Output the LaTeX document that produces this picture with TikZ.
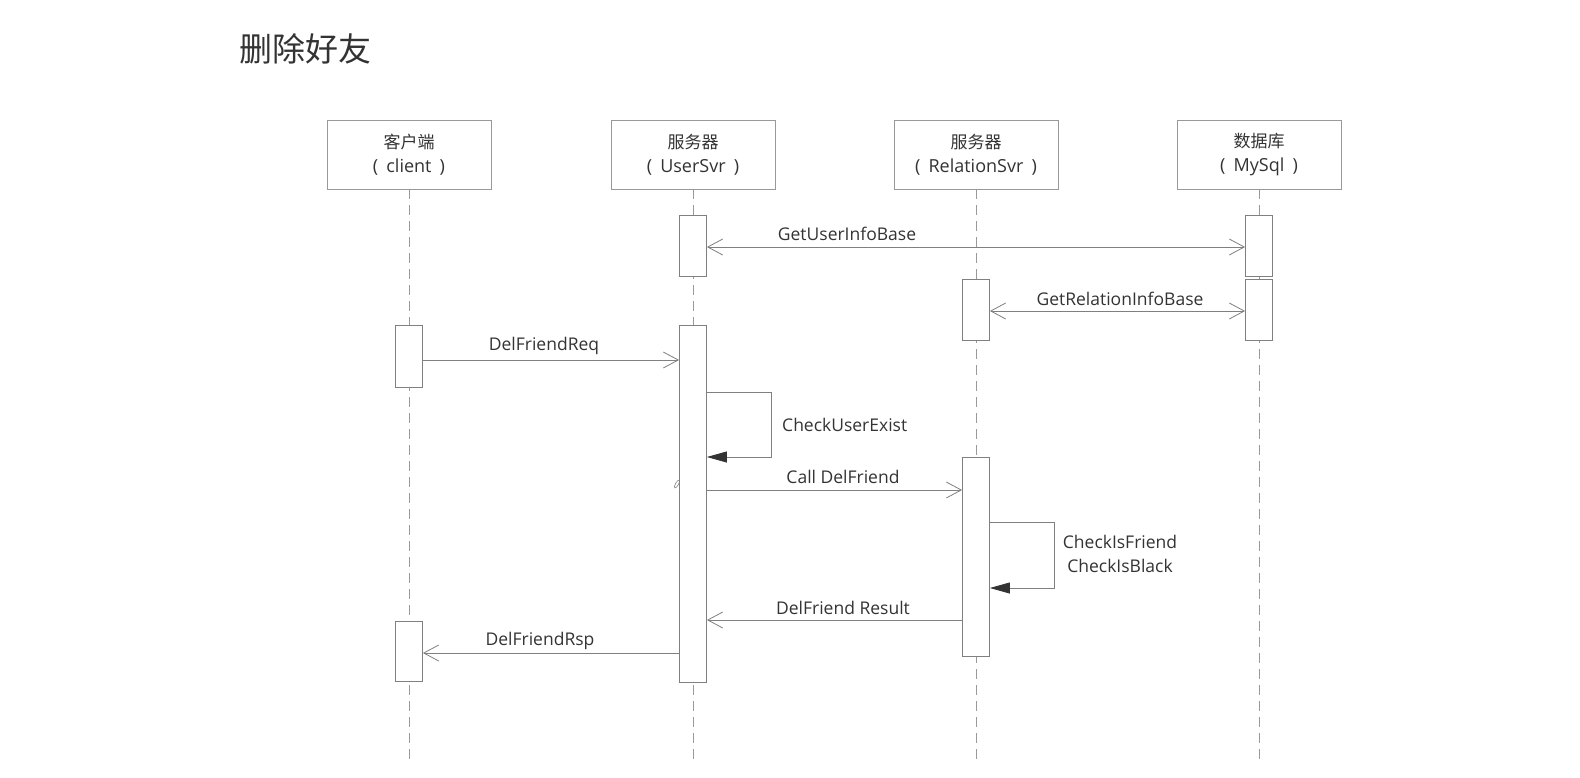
\documentclass[tikz,border=0pt]{standalone}
\usepackage{fontspec}
\setmainfont{Open Sans}
\newfontfamily\cjk{Noto Sans CJK SC}
\usepackage{xcolor}
\usetikzlibrary{arrows.meta}
\definecolor{txtgray}{HTML}{333333}
\definecolor{lngray}{HTML}{808080}
\newcommand{\pgap}{\hspace{0.45em}}

\begin{document}
\begin{tikzpicture}[x=1pt,y=-1pt,
  >={Straight Barb[length=15pt,width=16pt]},
  head/.style={draw=lngray!80, line width=0.8pt, fill=white, minimum width=164pt, minimum height=69pt, align=center, text=txtgray, font=\fontsize{18}{24}\selectfont},
  act/.style={draw=lngray, line width=0.8pt, fill=white, minimum width=27pt, inner sep=0pt},
  life/.style={draw=lngray!80, line width=0.8pt, dash pattern=on 10pt off 6pt},
  msg/.style={draw=lngray, line width=0.8pt, ->},
  self/.style={draw=lngray, line width=0.8pt, -{Triangle[length=20pt,width=11pt,color=txtgray]}},
  lbl/.style={text=txtgray, font=\fontsize{17.5}{24}\selectfont, inner sep=0pt, align=center}]
\useasboundingbox (0,0) rectangle (1580,777);

% title
\node[text=txtgray, font=\cjk\fontsize{33}{38}\selectfont] (T) at (305,49) {删除好友};

% heads
\node[head] (C0) at (409,154.5) {{\cjk\fontsize{17}{24}\selectfont 客户端}\\(\pgap client\pgap)};
\node[head] (U0) at (693,154.5) {{\cjk\fontsize{17}{24}\selectfont 服务器}\\(\pgap UserSvr\pgap)};
\node[head] (R0) at (976,154.5) {{\cjk\fontsize{17}{24}\selectfont 服务器}\\(\pgap RelationSvr\pgap)};
\node[head] (M0) at (1259,154.5) {{\cjk\fontsize{17}{24}\selectfont 数据库}\\(\pgap MySql\pgap)};

% lifelines
\coordinate (Cb) at (409,761);
\coordinate (Ub) at (693,761);
\coordinate (Rb) at (976,761);
\coordinate (Mb) at (1259,761);
\draw[life] (C0) -- (Cb);
\draw[life] (U0) -- (Ub);
\draw[life] (R0) -- (Rb);
\draw[life] (M0) -- (Mb);

% activations
\node[act, minimum height=61pt] (U1) at (693,245.5) {};
\node[act, minimum height=61pt] (M1) at (1259,245.5) {};
\node[act, minimum height=61pt] (R1) at (976,309.5) {};
\node[act, minimum height=61pt] (M2) at (1259,309.5) {};
\node[act, minimum height=62pt] (C1) at (409,356) {};
\node[act, minimum height=357pt] (U2) at (693,503.5) {};
\node[act, minimum height=199pt] (R2) at (976,556.5) {};
\node[act, minimum height=60pt] (C2) at (409,651) {};

% messages
\coordinate (K1) at (0,247);
\coordinate (K2) at (0,311);
\coordinate (K3) at (0,360);
\coordinate (K4) at (0,490);
\coordinate (K5) at (0,620);
\coordinate (K6) at (0,653);
\draw[msg, <->] (U1.east |- K1) -- (M1.west |- K1);
\draw[msg, <->] (R1.east |- K2) -- (M2.west |- K2);
\draw[msg] (C1.east |- K3) -- (U2.west |- K3);
\draw[msg] (U2.east |- K4) -- (R2.west |- K4);
\draw[msg] (R2.west |- K5) -- (U2.east |- K5);
\draw[msg] (U2.west |- K6) -- (C2.east |- K6);

% self calls
\coordinate (L1) at (771,392);
\coordinate (L2) at (771,457);
\draw[self] (U2.east |- L1) -- (L1) -- (L2) -- (U2.east |- L2);
\coordinate (L3) at (1054,522);
\coordinate (L4) at (1054,588);
\draw[self] (R2.east |- L3) -- (L3) -- (L4) -- (R2.east |- L4);

% labels
\node[lbl] (t1) at (847,234) {GetUserInfoBase};
\node[lbl] (t2) at (1120,299) {GetRelationInfoBase};
\node[lbl] (t3) at (544,346) {DelFriendReq};
\node[lbl, anchor=west] (t4) at (782,425) {CheckUserExist};
\node[lbl] (t5) at (843,477) {Call DelFriend};
\node[lbl] (t6) at (1120,554) {CheckIsFriend\\CheckIsBlack};
\node[lbl] (t7) at (843,608) {DelFriend Result};
\node[lbl] (t8) at (540,641) {DelFriendRsp};

% stray mark
\draw[lngray, line width=0.6pt, rotate around={-30:(677,484)}] (677,484) ellipse (1.5 and 4.5);
\end{tikzpicture}
\end{document}
